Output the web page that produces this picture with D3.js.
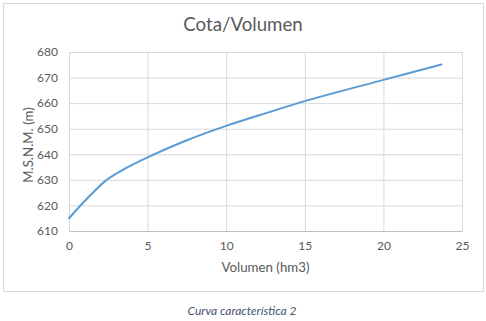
<!DOCTYPE html>
<html>
<head>
<meta charset="utf-8">
<script src="https://cdn.jsdelivr.net/npm/d3@7"></script>
<style>
  body { margin: 0; background: #fff; }
  svg text { font-family: Lato, "Open Sans", sans-serif; }
</style>
</head>
<body>
<svg id="chart" width="486" height="321"></svg>
<script>
// values
const volumen = [0, 1.2, 2.4, 3.5, 5, 7.5, 10, 12.8, 15, 20, 23.7];
const cota = [615, 623, 630, 634.2, 638.8, 645.5, 651.1, 656.6, 660.8, 669.1, 675.1];
const xTicks = [0, 5, 10, 15, 20, 25];
const yTicks = [610, 620, 630, 640, 650, 660, 670, 680];

const data = volumen.map((v, i) => ({ v: v, c: cota[i] }));

const svg = d3.select('#chart');
const margin = { top: 52, right: 24, bottom: 90, left: 69 };
const width = 462 - margin.left;
const height = 231 - margin.top;

// chart frame
svg.append('rect')
    .attr('x', 3.5).attr('y', 3.5)
    .attr('width', 480).attr('height', 288)
    .attr('fill', '#fff')
    .attr('stroke', '#d9d9d9');

svg.append('text')
    .attr('x', 243).attr('y', 31)
    .attr('text-anchor', 'middle')
    .style('font-size', '18.7px')
    .style('fill', '#595959')
    .text('Cota/Volumen');

const g = svg.append('g')
    .attr('transform', `translate(${margin.left},${margin.top})`);

const x = d3.scaleLinear().domain([0, 25]).range([0, width]);
const y = d3.scaleLinear().domain([610, 680]).range([height, 0]);

// gridlines
g.append('g')
    .call(d3.axisLeft(y).tickValues(yTicks).tickSize(-width).tickFormat(''))
    .call(a => a.select('.domain').remove())
    .call(a => a.selectAll('line').attr('stroke', '#d9d9d9'));

g.append('g')
    .call(d3.axisBottom(x).tickValues(xTicks).tickSize(height).tickFormat(''))
    .call(a => a.select('.domain').remove())
    .call(a => a.selectAll('line').attr('stroke', '#d9d9d9'));

// bottom axis line + labels
g.append('g')
    .attr('transform', `translate(0,${height})`)
    .call(d3.axisBottom(x).tickValues(xTicks).tickSize(0).tickPadding(10))
    .call(a => a.select('.domain').attr('stroke', '#bfbfbf'))
    .call(a => a.selectAll('text').style('font-size', '12px').style('fill', '#595959')
        .style('font-family', 'Lato, sans-serif'));

g.append('g')
    .call(d3.axisLeft(y).tickValues(yTicks).tickSize(0).tickPadding(11))
    .call(a => a.select('.domain').remove())
    .call(a => a.selectAll('text').style('font-size', '12px').style('fill', '#595959')
        .style('font-family', 'Lato, sans-serif'));

// the curve
const line = d3.line()
    .x(d => x(d.v))
    .y(d => y(d.c))
    .curve(d3.curveCatmullRom);

g.append('path')
    .datum(data)
    .attr('fill', 'none')
    .attr('stroke', '#5b9bd5')
    .attr('stroke-width', 2)
    .attr('stroke-linecap', 'round')
    .attr('d', line);

// axis titles
svg.append('text')
    .attr('x', 265.5).attr('y', 272)
    .attr('text-anchor', 'middle')
    .style('font-size', '13.3px')
    .style('fill', '#595959')
    .text('Volumen (hm3)');

svg.append('text')
    .attr('transform', 'translate(33,145) rotate(-90)')
    .attr('text-anchor', 'middle')
    .style('font-size', '13.3px')
    .style('fill', '#595959')
    .text('M.S.N.M. (m)');

// caption under the chart
svg.append('text')
    .attr('x', 242).attr('y', 315)
    .attr('text-anchor', 'middle')
    .style('font-size', '12px')
    .style('font-style', 'italic')
    .style('fill', '#44546a')
    .text('Curva característica 2');
</script>
</body>
</html>
